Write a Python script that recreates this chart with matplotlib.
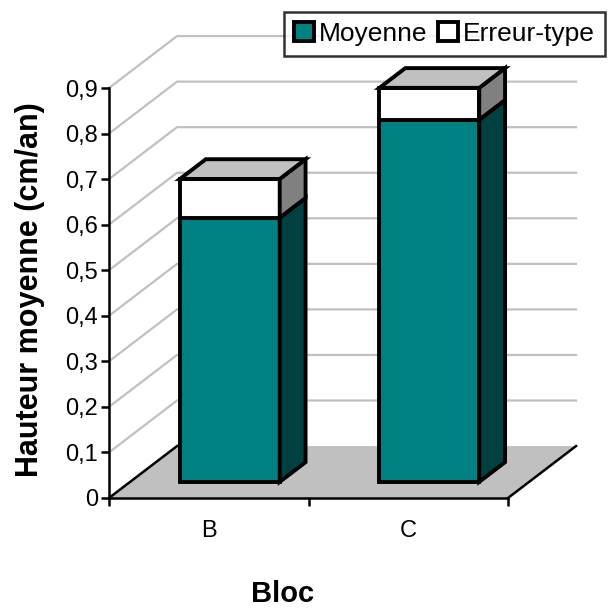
import matplotlib
matplotlib.use("Agg")
import matplotlib.pyplot as plt
from matplotlib.patches import Polygon, Patch

plt.rcParams['font.family'] = ['Liberation Sans', 'DejaVu Sans']

blocs = ['B', 'C']
moyenne = [0.58, 0.795]
erreur = [0.085, 0.07]
y_ticks = [0, 0.1, 0.2, 0.3, 0.4, 0.5, 0.6, 0.7, 0.8, 0.9]
y_labels = ['0', '0,1', '0,2', '0,3', '0,4', '0,5', '0,6', '0,7', '0,8', '0,9']

teal = '#008080'
teal_side = '#004040'
white_side = '#808080'
top_col = '#C0C0C0'
floor_col = '#C0C0C0'
grid_col = '#C0C0C0'

# depth of the box in data units (x, y) and where each bar sits inside it
DX, DY = 0.341, 0.114
f_front, f_back = 0.31, 0.69
half_w = 0.25

fig = plt.figure(figsize=(6.08, 6.10), dpi=100)
ax = fig.add_axes([109 / 608, 112 / 610, 399 / 608, 410 / 610])
ax.set_xlim(-0.5, 1.5)
ax.set_ylim(0, 0.9)
ax.set_facecolor('none')
for s in ['top', 'right']:
    ax.spines[s].set_visible(False)
for s in ['left', 'bottom']:
    ax.spines[s].set_linewidth(1.8)
    ax.spines[s].set_zorder(6)

x0, x1 = -0.5, 1.5

# floor
floor = Polygon([(x0, 0), (x1, 0), (x1 + DX, DY), (x0 + DX, DY)], closed=True,
                facecolor=floor_col, edgecolor='none', clip_on=False, zorder=1)
ax.add_patch(floor)
ax.plot([x0, x0 + DX], [0, DY], color='black', lw=1.8, clip_on=False, zorder=2)
ax.plot([x1, x1 + DX], [0, DY], color='black', lw=1.8, clip_on=False, zorder=2)

# gridlines on side wall and back wall
for v in y_ticks[1:]:
    ax.plot([x0, x0 + DX, x1 + DX], [v, v + DY, v + DY], color=grid_col,
            lw=1.6, clip_on=False, zorder=0)

# 3D stacked bars
bar_style = dict(edgecolor='black', lw=2.8, joinstyle='miter', clip_on=False, zorder=4)
for i, (m, e) in enumerate(zip(moyenne, erreur)):
    segs = [(0, m, teal, teal_side), (m, m + e, 'white', white_side)]
    fx0 = i - half_w + f_front * DX
    fx1 = i + half_w + f_front * DX
    fy = f_front * DY
    ddx = (f_back - f_front) * DX
    ddy = (f_back - f_front) * DY
    for lo, hi, face, side in segs:
        ax.add_patch(Polygon([(fx0, lo + fy), (fx1, lo + fy), (fx1, hi + fy), (fx0, hi + fy)],
                             facecolor=face, **bar_style))
        ax.add_patch(Polygon([(fx1, lo + fy), (fx1 + ddx, lo + fy + ddy),
                              (fx1 + ddx, hi + fy + ddy), (fx1, hi + fy)],
                             facecolor=side, **bar_style))
    top = m + e
    ax.add_patch(Polygon([(fx0, top + fy), (fx1, top + fy), (fx1 + ddx, top + fy + ddy),
                          (fx0 + ddx, top + fy + ddy)], facecolor=top_col, **bar_style))

ax.set_yticks(y_ticks)
ax.set_yticklabels(y_labels, fontsize=17)
ax.set_xticks([-0.5, 0.5, 1.5])
ax.set_xticklabels([])
ax.set_xticks([0, 1], minor=True)
ax.set_xticklabels(blocs, minor=True, fontsize=17)
ax.tick_params(axis='both', which='major', direction='out', length=6, width=1.8, color='black')
ax.tick_params(axis='x', which='minor', length=0, pad=16)
ax.tick_params(axis='y', pad=2)

fig.text(30 / 608, 1 - 290 / 610, 'Hauteur moyenne (cm/an)', rotation=90, ha='center',
         va='center', fontsize=22, fontweight='heavy')
fig.text(283 / 608, 1 - 594 / 610, 'Bloc', ha='center', va='center',
         fontsize=21, fontweight='heavy')

handles = [Patch(facecolor=teal, edgecolor='black', lw=2.8),
           Patch(facecolor='white', edgecolor='black', lw=2.8)]
leg = fig.legend(handles, ['Moyenne', 'Erreur-type'], ncol=2, loc='upper right',
                 bbox_to_anchor=(605 / 608, 1 - 12 / 610), fontsize=19, frameon=True,
                 fancybox=False, borderpad=0.38, handlelength=0.75, handleheight=0.75,
                 handletextpad=0.2, columnspacing=0.4, borderaxespad=0)
leg.get_frame().set_edgecolor('black')
leg.get_frame().set_linewidth(1.8)

fig.savefig('out.png', dpi=100)
